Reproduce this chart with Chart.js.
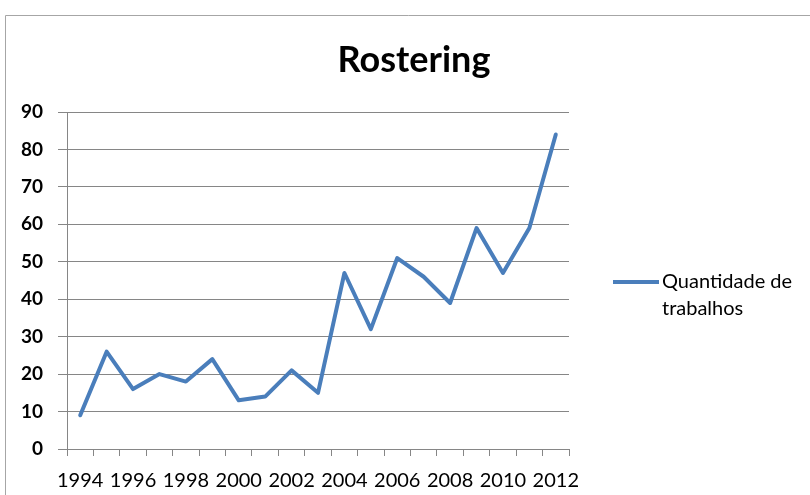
<!DOCTYPE html>
<html>
<head>
<meta charset="UTF-8">
<title>Rostering</title>
<script src="https://cdn.jsdelivr.net/npm/chart.js@4/dist/chart.umd.min.js"></script>
<style>
  html, body { margin: 0; padding: 0; background: #ffffff; }
  #wrap { position: relative; width: 810px; height: 495px; }
</style>
</head>
<body>
<div id="wrap"><canvas id="chart" width="810" height="495"></canvas></div>
<script>
// publicações por ano
var anos = ['1994', '1995', '1996', '1997', '1998', '1999', '2000', '2001', '2002', '2003',
            '2004', '2005', '2006', '2007', '2008', '2009', '2010', '2011', '2012'];
var trabalhos = [9, 26, 16, 20, 18, 24, 13, 14, 21, 15, 47, 32, 51, 46, 39, 59, 47, 59, 84];
var titulo = 'Rostering';
var legenda = ['Quantidade de', 'trabalhos'];

var azul = '#4a7ebb';
var cinza = '#868686';

// moldura, título e legenda desenhados à mão (a legenda quebra em duas linhas)
var extras = {
  id: 'extras',
  afterDraw: function (chart) {
    var ctx = chart.ctx;
    ctx.save();
    ctx.strokeStyle = '#a6a6a6';
    ctx.lineWidth = 1;
    ctx.beginPath();
    ctx.moveTo(5.5, 500);
    ctx.lineTo(5.5, 15.5);
    ctx.lineTo(815, 15.5);
    ctx.stroke();

    ctx.fillStyle = '#000';
    ctx.textAlign = 'center';
    ctx.textBaseline = 'middle';
    ctx.font = 'bold 36px Lato';
    ctx.fillText(titulo, 414, 60);

    ctx.strokeStyle = azul;
    ctx.lineWidth = 4;
    ctx.beginPath();
    ctx.moveTo(613, 282);
    ctx.lineTo(659, 282);
    ctx.stroke();

    ctx.textAlign = 'left';
    ctx.font = '20px Lato';
    ctx.fillText(legenda[0], 662, 282);
    ctx.fillText(legenda[1], 662, 309);
    ctx.restore();
  }
};

new Chart(document.getElementById('chart'), {
  type: 'line',
  data: {
    labels: anos,
    datasets: [{
      label: legenda.join(' '),
      data: trabalhos,
      borderColor: azul,
      borderWidth: 4,
      borderJoinStyle: 'round',
      borderCapStyle: 'round',
      pointRadius: 0,
      tension: 0,
      fill: false
    }]
  },
  options: {
    responsive: false,
    animation: false,
    layout: { padding: { top: 112, right: 241, bottom: 0, left: 0 } },
    plugins: {
      legend: { display: false },
      title: { display: false },
      tooltip: { enabled: false }
    },
    scales: {
      x: {
        offset: true,
        grid: { offset: true, drawOnChartArea: false, color: cinza, tickLength: 7 },
        border: { color: cinza, width: 1 },
        ticks: {
          autoSkip: false,
          maxRotation: 0,
          padding: 13,
          color: '#000',
          font: { family: 'Lato', size: 20 },
          callback: function (v, i) { return i % 2 === 0 ? anos[i] : ''; }
        },
        afterFit: function (s) { s.height = 46; }
      },
      y: {
        min: 0,
        max: 90,
        grid: { color: cinza, tickLength: 9 },
        border: { color: cinza, width: 1 },
        ticks: {
          stepSize: 10,
          padding: 15,
          color: '#000',
          font: { family: 'Lato', size: 19, weight: 'bold' }
        },
        afterFit: function (s) { s.width = 67; }
      }
    }
  },
  plugins: [extras]
});
</script>
</body>
</html>
